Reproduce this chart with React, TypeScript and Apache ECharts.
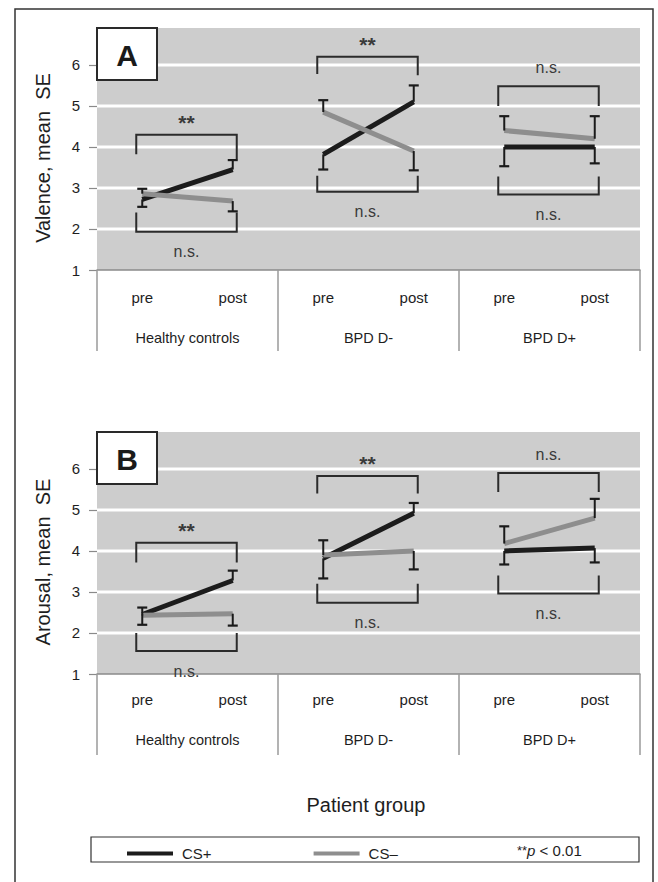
import React, { useEffect, useRef } from 'react';
import * as echarts from 'echarts';

const FONT = '"Liberation Sans", Arial, Helvetica, sans-serif';

const timePoints = ['pre', 'post', 'pre', 'post', 'pre', 'post'];
const groups = ['Healthy controls', 'BPD D-', 'BPD D+'];
const yTicks = [1, 2, 3, 4, 5, 6];
const yMin = 1;
const yMax = 6.9;

// Panel A – Valence
const valenceCSplus = [2.72, 3.45, 3.82, 5.1, 4.0, 4.0];
const valenceCSplusErr = [2.54, 3.68, 3.45, 5.5, 3.53, 3.6];
const valenceCSminus = [2.86, 2.68, 4.85, 3.9, 4.4, 4.2];
const valenceCSminusErr = [2.98, 2.43, 5.14, 3.43, 4.75, 4.75];
// [groupIndex, barValue, leftEndValue, rightEndValue]
const valenceBrackets = [
  [0, 4.3, 3.82, 3.7],
  [1, 6.2, 5.78, 5.75],
  [2, 5.48, 5.0, 5.0],
  [0, 1.93, 2.4, 2.4],
  [1, 2.91, 3.3, 3.3],
  [2, 2.84, 3.28, 3.28],
];
const valenceBracketLabels = ['**', '**', 'n.s.', 'n.s.', 'n.s.', 'n.s.'];

// Panel B – Arousal
const arousalCSplus = [2.45, 3.28, 3.82, 4.92, 4.0, 4.07];
const arousalCSplusErr = [2.2, 3.52, 3.33, 5.17, 3.67, 3.72];
const arousalCSminus = [2.43, 2.47, 3.9, 4.0, 4.18, 4.8];
const arousalCSminusErr = [2.62, 2.18, 4.26, 3.55, 4.6, 5.27];
const arousalBrackets = [
  [0, 4.2, 3.72, 3.72],
  [1, 5.83, 5.4, 5.4],
  [2, 5.9, 5.44, 5.44],
  [0, 1.56, 2.0, 2.0],
  [1, 2.74, 3.2, 3.2],
  [2, 2.96, 3.4, 3.4],
];
const arousalBracketLabels = ['**', '**', 'n.s.', 'n.s.', 'n.s.', 'n.s.'];

const panelNames = ['Valence, mean  SE', 'Arousal, mean  SE'];
const panelLetters = ['A', 'B'];
const seriesNames = ['CS+', 'CS–'];

const GRID_LEFT = 97;
const GRID_WIDTH = 543;
const GRID_TOPS = [28, 432];
const GRID_HEIGHTS = [242, 242];
const TIME_LABEL_MARGINS = [20, 18];
const GROUP_LABEL_MARGINS = [60, 58];

const BLACK = '#1c1c1c';
const GREY = '#8e8e8e';
const PLOT_BG = '#cdcdcd';

function panelSeries(
  i: number,
  plus: number[],
  plusErr: number[],
  minus: number[],
  minusErr: number[],
  brackets: number[][],
  labels: string[]
) {
  const xi = 2 * i;
  const out: any[] = [];
  // white horizontal gridlines
  out.push({
    type: 'custom',
    xAxisIndex: xi,
    yAxisIndex: i,
    z: 1,
    silent: true,
    data: yTicks.filter((v) => v > yMin).map((v) => [0, v]),
    encode: { x: 0, y: 1 },
    renderItem: (params: any, api: any) => {
      const cs = params.coordSys;
      const y = api.coord([0, api.value(1)])[1];
      return {
        type: 'line',
        shape: { x1: cs.x, y1: y, x2: cs.x + cs.width, y2: y },
        style: { stroke: '#ffffff', lineWidth: 3 },
      };
    },
  });
  const conds = [
    { name: seriesNames[0], vals: plus, err: plusErr, color: BLACK },
    { name: seriesNames[1], vals: minus, err: minusErr, color: GREY },
  ];
  conds.forEach((c, ci) => {
    for (let g = 0; g < groups.length; g++) {
      out.push({
        type: 'line',
        name: c.name,
        xAxisIndex: xi,
        yAxisIndex: i,
        z: 2 + ci,
        symbol: 'none',
        silent: true,
        lineStyle: { color: c.color, width: 5 },
        itemStyle: { color: c.color },
        data: [
          [2 * g, c.vals[2 * g]],
          [2 * g + 1, c.vals[2 * g + 1]],
        ],
      });
    }
  });
  // error bars
  conds.forEach((c) => {
    out.push({
      type: 'custom',
      xAxisIndex: xi,
      yAxisIndex: i,
      z: 5,
      silent: true,
      data: c.vals.map((v, k) => [k, v, c.err[k]]),
      encode: { x: 0, y: [1, 2] },
      renderItem: (params: any, api: any) => {
        const p1 = api.coord([api.value(0), api.value(1)]);
        const p2 = api.coord([api.value(0), api.value(2)]);
        return {
          type: 'group',
          children: [
            {
              type: 'line',
              shape: { x1: p1[0], y1: p1[1], x2: p2[0], y2: p2[1] },
              style: { stroke: '#1a1a1a', lineWidth: 2 },
            },
            {
              type: 'line',
              shape: { x1: p2[0] - 5, y1: p2[1], x2: p2[0] + 5, y2: p2[1] },
              style: { stroke: '#1a1a1a', lineWidth: 2.2 },
            },
          ],
        };
      },
    });
  });
  // significance brackets
  out.push({
    type: 'custom',
    xAxisIndex: xi,
    yAxisIndex: i,
    z: 5,
    silent: true,
    data: brackets,
    encode: { x: 0, y: [1, 2, 3] },
    renderItem: (params: any, api: any) => {
      const g = api.value(0);
      const bar = api.value(1);
      const yTop = api.coord([2 * g, bar])[1];
      const yl = api.coord([2 * g, api.value(2)])[1];
      const yr = api.coord([2 * g, api.value(3)])[1];
      const xl = api.coord([2 * g, bar])[0] - 6;
      const xr = api.coord([2 * g + 1, bar])[0] + 4;
      const label = labels[params.dataIndex];
      const above = api.value(2) < bar;
      const isStar = label === '**';
      const ty = above ? yTop - (isStar ? 12 : 19) : yTop + 20;
      return {
        type: 'group',
        children: [
          {
            type: 'polyline',
            shape: { points: [[xl, yl], [xl, yTop], [xr, yTop], [xr, yr]] },
            style: { stroke: '#2b2b2b', lineWidth: 2, fill: 'none' },
          },
          {
            type: 'text',
            x: (xl + xr) / 2,
            y: ty,
            style: {
              text: label,
              fontSize: isStar ? 21 : 16,
              fontWeight: isStar ? 'bold' : 'normal',
              fontFamily: FONT,
              fill: '#3a3a3a',
              align: 'center',
              verticalAlign: 'middle',
            },
          },
        ],
      };
    },
  });
  return out;
}

export default function App() {
  const ref = useRef<HTMLDivElement>(null);
  useEffect(() => {
    if (!ref.current) return;
    const chart = echarts.init(ref.current, undefined, { renderer: 'svg' });

    const grids = [0, 1].map((i) => ({
      left: GRID_LEFT,
      top: GRID_TOPS[i],
      width: GRID_WIDTH,
      height: GRID_HEIGHTS[i],
      show: true,
      backgroundColor: PLOT_BG,
      borderWidth: 0,
    }));

    const xAxes: any[] = [];
    [0, 1].forEach((i) => {
      xAxes.push({
        type: 'category',
        gridIndex: i,
        data: timePoints,
        boundaryGap: true,
        axisLine: { show: true, lineStyle: { color: '#8a8a8a', width: 1.5 } },
        axisTick: { show: false },
        axisLabel: { interval: 0, margin: TIME_LABEL_MARGINS[i], fontSize: 15, color: '#1e1e1e', fontFamily: FONT },
        splitLine: { show: false },
      });
      xAxes.push({
        type: 'category',
        gridIndex: i,
        data: groups,
        position: 'bottom',
        boundaryGap: true,
        axisLine: { show: false },
        axisTick: {
          show: true,
          interval: 0,
          alignWithLabel: false,
          length: 81,
          lineStyle: { color: '#9a9a9a', width: 1.5 },
        },
        axisLabel: { interval: 0, margin: GROUP_LABEL_MARGINS[i], fontSize: 14.5, color: '#1e1e1e', fontFamily: FONT },
        splitLine: { show: false },
      });
    });

    const yAxes = [0, 1].map((i) => ({
      type: 'value',
      gridIndex: i,
      min: yMin,
      max: yMax,
      interval: 1,
      name: panelNames[i],
      nameLocation: 'middle',
      nameGap: 44,
      nameTextStyle: { fontSize: 20, color: '#1e1e1e', fontFamily: FONT, padding: [0, 18, 0, 0] },
      axisLine: { show: false },
      axisTick: {
        show: true,
        length: 8,
        customValues: yTicks,
        lineStyle: { color: '#8a8a8a', width: 1.2 },
      },
      axisLabel: {
        margin: 17,
        fontSize: 15,
        color: '#1e1e1e',
        fontFamily: FONT,
        customValues: yTicks,
        formatter: (v: number) => (Number.isInteger(v) ? String(v) : ''),
      },
      splitLine: { show: false },
    }));

    const series = [
      ...panelSeries(0, valenceCSplus, valenceCSplusErr, valenceCSminus, valenceCSminusErr, valenceBrackets, valenceBracketLabels),
      ...panelSeries(1, arousalCSplus, arousalCSplusErr, arousalCSminus, arousalCSminusErr, arousalBrackets, arousalBracketLabels),
    ];

    const letterBoxes = [0, 1].map((i) => ({
      type: 'group',
      z: 100,
      children: [
        {
          type: 'rect',
          z: 100,
          shape: { x: GRID_LEFT, y: GRID_TOPS[i], width: 60, height: 52 },
          style: { fill: '#ffffff', stroke: '#2a2a2a', lineWidth: 2 },
        },
        {
          type: 'text',
          z: 101,
          x: GRID_LEFT + 30,
          y: GRID_TOPS[i] + 27,
          style: {
            text: panelLetters[i],
            fontSize: 30,
            fontWeight: 'bold',
            fontFamily: FONT,
            fill: '#1a1a1a',
            align: 'center',
            verticalAlign: 'middle',
          },
        },
      ],
    }));

    chart.setOption({
      animation: false,
      backgroundColor: '#ffffff',
      textStyle: { fontFamily: FONT },
      grid: grids,
      xAxis: xAxes,
      yAxis: yAxes,
      legend: {
        left: 122,
        top: 841,
        z: 20,
        data: seriesNames,
        itemWidth: 46,
        itemHeight: 4,
        itemGap: 102,
        icon: 'rect',
        selectedMode: false,
        textStyle: { fontSize: 15, color: '#1e1e1e', fontFamily: FONT, padding: [0, 0, 0, 4] },
      },
      graphic: [
        {
          type: 'rect',
          silent: true,
          shape: { x: 15, y: 9, width: 638, height: 900 },
          style: { fill: 'none', stroke: '#333333', lineWidth: 1.5 },
        },
        {
          type: 'rect',
          silent: true,
          shape: { x: 91, y: 837, width: 548, height: 25 },
          style: { fill: 'none', stroke: '#333333', lineWidth: 1.2 },
        },
        {
          type: 'text',
          silent: true,
          x: 366,
          y: 805,
          style: {
            text: 'Patient group',
            fontSize: 20,
            fontFamily: FONT,
            fill: '#1e1e1e',
            align: 'center',
            verticalAlign: 'middle',
          },
        },
        {
          type: 'text',
          silent: true,
          x: 517,
          y: 850,
          style: {
            text: '{s|**}{i|p} < 0.01',
            fontSize: 15,
            fontFamily: FONT,
            fill: '#1e1e1e',
            verticalAlign: 'middle',
            rich: {
              s: { fontSize: 13, fontFamily: FONT, fill: '#1e1e1e' },
              i: { fontSize: 15, fontStyle: 'italic', fontFamily: FONT, fill: '#1e1e1e' },
            },
          },
        },
        ...letterBoxes,
      ],
      series,
    });
    return () => chart.dispose();
  }, []);
  return (
    <div
      ref={ref}
      style={{ position: 'fixed', left: 0, top: 0, width: 658, height: 882, background: '#fff' }}
    />
  );
}
